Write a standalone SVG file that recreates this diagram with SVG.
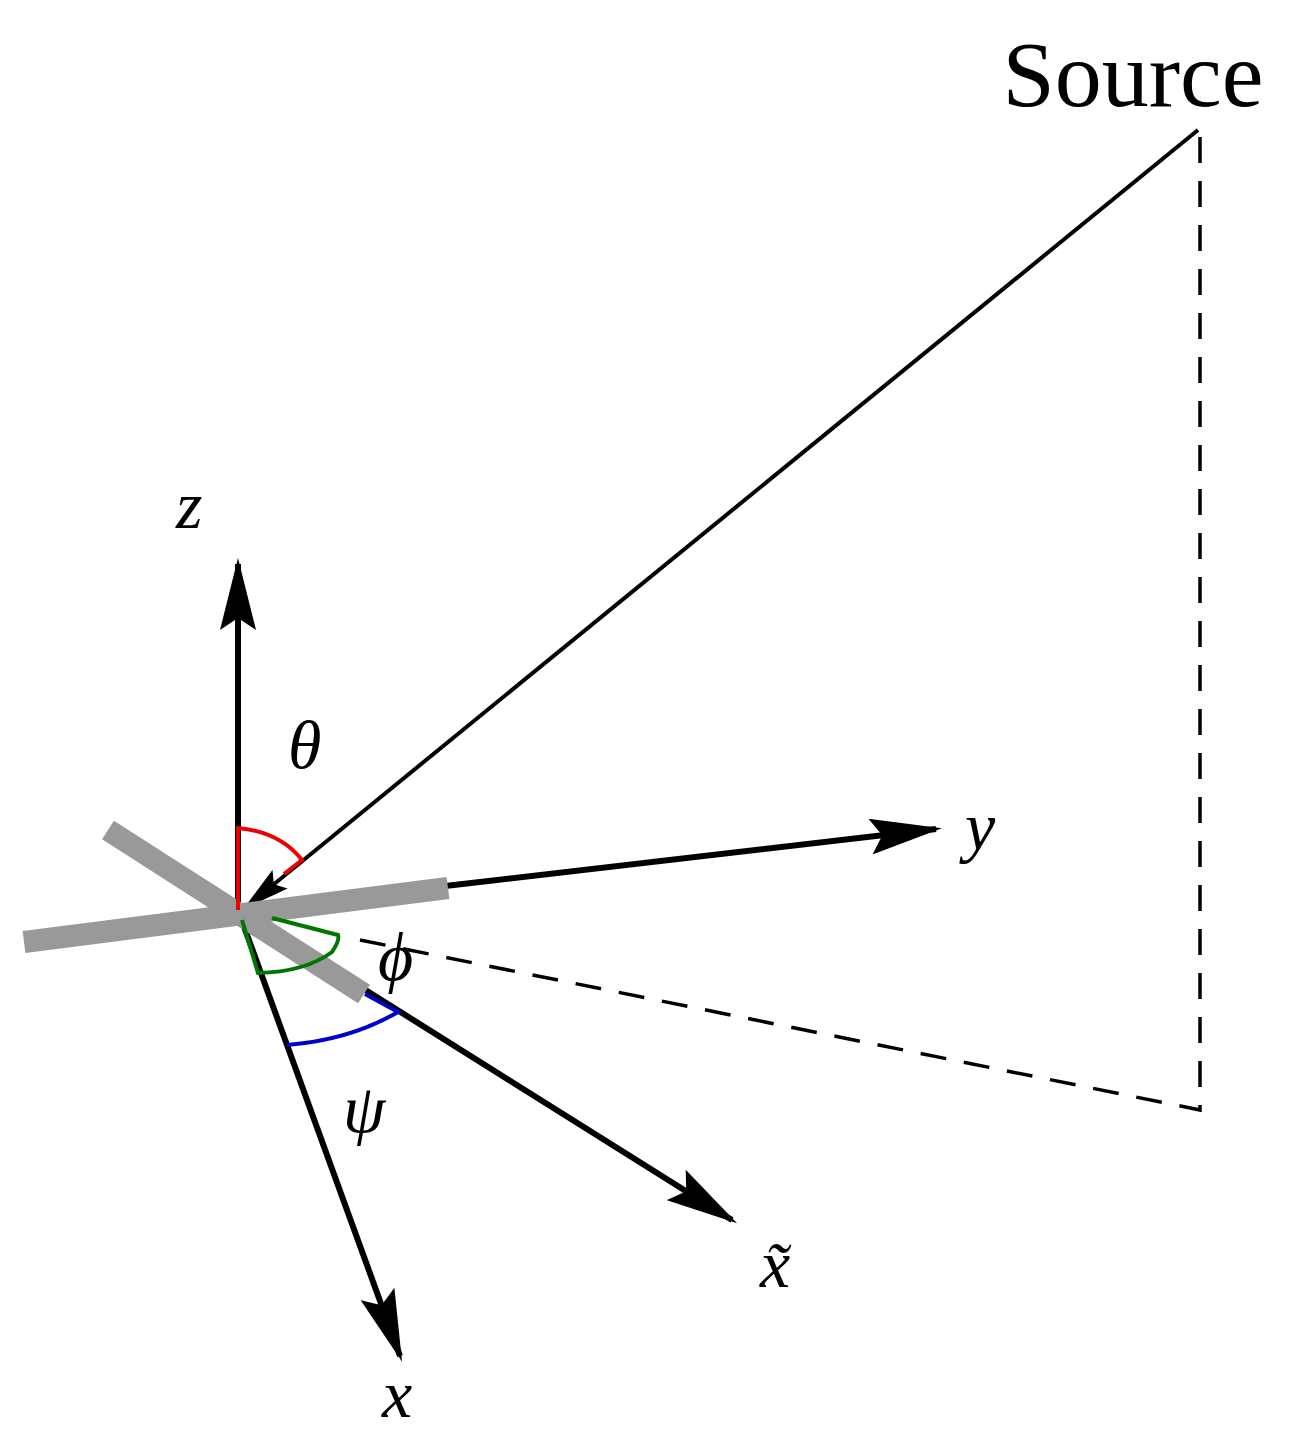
<svg xmlns="http://www.w3.org/2000/svg" width="1293" height="1446" viewBox="0 0 1293 1446">
<style>
.ax{stroke:#000;stroke-width:6;fill:none}
.rod{stroke:#999;stroke-width:22;stroke-linecap:butt;fill:none}
.lbl{font-family:"Liberation Serif",serif;font-style:italic;font-size:68px;fill:#000}
.arc{fill:none;stroke-width:4}
</style>
<defs>
<marker id="ah" markerWidth="12" markerHeight="6" refX="11" refY="3" orient="auto" markerUnits="strokeWidth">
<path d="M0,0 L12,3 L0,6 L2,3 Z" fill="#000"/>
</marker>
</defs>
<g id="connectors">
<line class="ax" x1="238" y1="910" x2="238" y2="564" marker-end="url(#ah)"/>
<line class="ax" x1="238" y1="910" x2="936" y2="829" marker-end="url(#ah)"/>
<line class="ax" x1="238" y1="910" x2="400" y2="1356" marker-end="url(#ah)"/>
<line class="ax" x1="238" y1="910" x2="732" y2="1220" marker-end="url(#ah)"/>
<line class="ax" style="stroke-width:4" x1="1198" y1="130" x2="246" y2="907" marker-end="url(#ah)"/>
<path d="M360,940 L1200,1110 L1200,130" fill="none" stroke="#000" stroke-width="3.5" stroke-dasharray="26,18"/>
</g>
<g id="rods">
<line class="rod" x1="24" y1="942" x2="448" y2="888"/>
<line class="rod" x1="108" y1="830" x2="364" y2="994"/>
</g>
<g id="angles">
<path class="arc" stroke="#e00" d="M238,910 L238,828 Q280,832 302,860 L284,874"/>
<path class="arc" stroke="#070" d="M242,920 L258,973 Q305,972 332,952 Q340,940 338,935 L272,918"/>
<path class="arc" stroke="#00c" d="M287,1045 Q350,1040 398,1012 L365,994"/>
</g>
<g id="labels">
<text class="lbl" x="176" y="528">z</text>
<text class="lbl" x="288" y="768">θ</text>
<text class="lbl" x="965" y="850">y</text>
<text class="lbl" x="378" y="980">ϕ</text>
<text class="lbl" x="343" y="1132">ψ</text>
<text class="lbl" x="760" y="1287">x̃</text>
<text class="lbl" x="382" y="1417">x</text>
<text x="1133" y="106" font-family="Liberation Serif,serif" font-size="94" text-anchor="middle">Source</text>
</g>
</svg>
